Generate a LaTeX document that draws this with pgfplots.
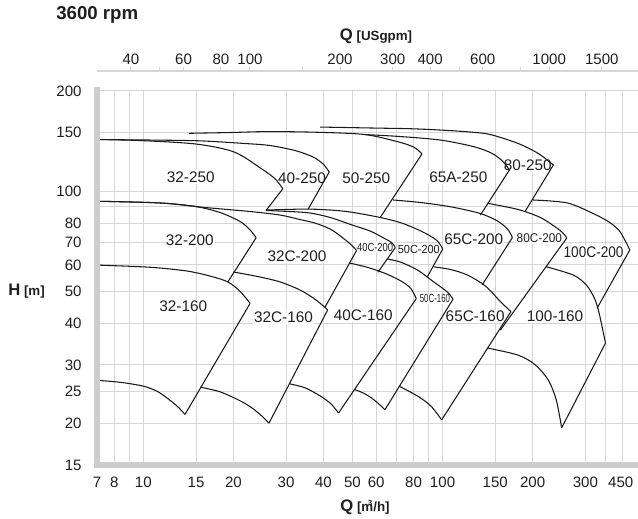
\documentclass[border=0pt]{standalone}
\usepackage{fontspec}
\setmainfont{Liberation Sans}
\usepackage{graphicx}
\usepackage{pgfplots}
\pgfplotsset{compat=1.18}

\definecolor{gridc}{HTML}{D6D6D6}
\definecolor{axc}{HTML}{CDCDCD}
\definecolor{ink}{HTML}{1A1A1A}
\definecolor{txt}{HTML}{1F1F1F}

\pgfplotsset{
  crv/.style={ink, line width=0.8pt, smooth, tension=0.5},
  bnd/.style={ink, line width=0.8pt},
}
\tikzset{
  lbl/.style={fill=white, inner sep=1pt, text=txt, font=\fontsize{11.5}{13}\selectfont},
  sml/.style={fill=white, inner sep=0.6pt, text=txt, font=\fontsize{8.8}{10}\selectfont},
}
\newcommand{\qbig}[1]{{\fontsize{12.5}{14}\selectfont #1}}
\newcommand{\qsm}[1]{{\fontsize{10}{12}\selectfont #1}}

\begin{document}
\begin{tikzpicture}

% upper scale in US gallons per minute
\begin{axis}[
  at={(0,0)}, anchor=south west, scale only axis,
  width=405.75pt, height=295.5pt,
  xmode=log, xmin=30.82, xmax=1981.3, ymin=0, ymax=1,
  axis x line*=top, hide y axis,
  x axis line style={gridc, line width=0.9pt, -},
  xtick={40,60,80,100,200,300,400,600,1000,1500},
  xticklabels={40,60,80,100,200,300,400,600,1000,1500},
  minor xtick={50,150,500,800},
  tick align=outside,
  major tick length=3pt, minor tick length=3pt,
  tick style={gridc, line width=0.75pt},
  xticklabel style={font=\fontsize{11.3}{13}\selectfont, text=txt, yshift=-2pt},
]
\addplot[draw=none] coordinates {(100,0.5)};
\end{axis}

\begin{axis}[
  at={(0,0)}, anchor=south west, scale only axis,
  width=405.75pt, height=280.5pt,
  set layers,
  xmode=log, ymode=log,
  xmin=7, xmax=450, ymin=15, ymax=200,
  axis line style={draw=none},
  xtick={7,8,10,15,20,30,40,50,60,80,100,150,200,300},
  xticklabels={7,8,10,15,20,30,40,50,60,80,100,150,200,300},
  extra x ticks={450}, extra x tick labels={450},
  extra x tick style={xticklabel style={anchor=north east}},
  minor xtick={9,70,90,350,400},
  ytick={15,20,25,30,40,50,60,70,80,100,150,200},
  yticklabels={15,20,25,30,40,50,60,70,80,100,150,200},
  minor ytick={90},
  grid=both,
  major grid style={gridc, line width=0.75pt},
  minor grid style={gridc, line width=0.75pt},
  major tick length=0pt, minor tick length=0pt,
  tick label style={font=\fontsize{11.3}{13}\selectfont, text=txt},
  xticklabel style={yshift=-5.5pt},
  yticklabel style={xshift=-8pt},
]
\begin{pgfonlayer}{pre main}
\node[lbl] at (axis cs:14.4,110.4) {32-250};
\node[lbl] at (axis cs:33.9,109.2) {40-250};
\node[lbl] at (axis cs:55.6,109.2) {50-250};
\node[lbl] at (axis cs:112.9,109.7) {65A-250};
\node[lbl] at (axis cs:192.7,119.8) {80-250};
\node[lbl] at (axis cs:14.3,71.3) {32-200};
\node[lbl] at (axis cs:32.6,63.5) {32C-200};
\node[sml] at (axis cs:59.5,67.7) {\scalebox{0.8}[1]{40C-200}};
\node[sml] at (axis cs:83.3,66.8) {\scalebox{0.93}[1]{50C-200}};
\node[lbl] at (axis cs:127.1,71.8) {65C-200};
\node[sml, font=\fontsize{9.5}{11}\selectfont] at (axis cs:210.6,72.1) {\scalebox{0.93}[1]{80C-200}};
\node[lbl] at (axis cs:319.8,65.7) {\scalebox{0.89}[1]{100C-200}};
\node[lbl] at (axis cs:13.6,45.0) {32-160};
\node[lbl] at (axis cs:29.4,41.7) {32C-160};
\node[lbl] at (axis cs:54.3,42.3) {40C-160};
\node[sml] at (axis cs:94.3,47.4) {\scalebox{0.67}[1]{50C-160}};
\node[lbl] at (axis cs:128.5,42.0) {65C-160};
\node[lbl] at (axis cs:237.7,42.0) {100-160};
\end{pgfonlayer}

% 250 family
\addplot[crv] coordinates {(7.0,142.9) (9.75,141.9) (15.0,138.5) (20.1,131.1) (24.9,116.5) (27.6,108.7) (29.25,101.6)};
\addplot[bnd] coordinates {(29.25,101.6) (25.7,87.4)};
\addplot[crv] coordinates {(7.0,142.9) (10.53,142.4) (15.47,141.6) (21.9,139.0) (26.5,137.1) (32.15,132.4) (36.95,126.6) (39.9,120.6) (41.8,114.1)};
\addplot[bnd] coordinates {(41.8,114.1) (35.56,88.3)};
\addplot[crv] coordinates {(14.2,149.2) (19.5,150.0) (26.5,151.0) (39.0,150.2) (55.1,147.9) (70.5,140.9) (80.0,135.7) (85.4,129.4)};
\addplot[bnd] coordinates {(85.4,129.4) (61.9,83.3)};
\addplot[crv] coordinates {(55.1,147.9) (72.2,145.9) (98.3,142.4) (126.8,136.1) (145.7,130.1) (158.6,123.1) (167.3,115.7)};
\addplot[bnd] coordinates {(167.3,115.7) (133.8,84.7)};
\addplot[crv] coordinates {(39.0,155.8) (57.3,154.8) (78.1,154.0) (98.3,152.6) (123.9,150.5) (144.6,147.9) (179.1,139.0) (209.0,129.7) (234.6,119.8)};
\addplot[bnd] coordinates {(234.6,119.8) (189.1,87.1)};

% 200 family
\addplot[crv] coordinates {(7.0,93.2) (11.37,92.1) (14.9,89.9) (18.05,86.2) (21.06,81.0) (22.74,76.4) (23.82,72.4)};
\addplot[bnd] coordinates {(23.82,72.4) (19.16,53.3)};
\addplot[crv] coordinates {(7.0,93.2) (11.37,92.1) (16.08,89.25) (22.74,86.8) (28.65,84.7) (33.4,82.1) (37.5,80.1) (42.1,76.9) (45.5,73.3) (49.2,69.3) (51.6,66.3)};
\addplot[bnd] coordinates {(51.6,66.3) (40.5,44.8)};
\addplot[crv] coordinates {(25.7,87.4) (30.9,86.8) (36.1,85.9) (42.1,83.3) (49.2,79.4) (57.3,75.8) (63.3,72.4) (67.9,69.8) (69.5,67.6)};
\addplot[bnd] coordinates {(69.5,67.6) (60.9,57.1)};
\addplot[crv] coordinates {(25.7,87.7) (30.9,88.1) (35.56,88.3) (42.1,87.7) (49.2,86.5) (61.9,83.3) (72.2,80.4) (81.1,77.2) (89.7,73.8) (96.1,70.8) (100.2,67.0)};
\addplot[bnd] coordinates {(100.2,67.0) (88.8,55.1)};
\addplot[crv] coordinates {(68.4,94.0) (84.3,92.4) (107.0,89.6) (133.8,85.6) (152.5,81.3) (164.8,76.9) (171.2,72.5)};
\addplot[bnd] coordinates {(171.2,72.5) (135.6,52.2)};
\addplot[crv] coordinates {(141.3,91.9) (179.1,88.0) (212.2,83.3) (238.2,78.0) (251.4,75.1) (260.2,72.3)};
\addplot[bnd] coordinates {(260.2,72.3) (156.1,38.2)};
\addplot[crv] coordinates {(200.7,94.0) (261.3,92.1) (321.5,85.3) (363.8,80.2) (392.7,75.3) (422.5,66.5)};
\addplot[bnd] coordinates {(422.5,66.5) (328.3,44.4)};

% 160 family
\addplot[crv] coordinates {(7.0,59.9) (10.53,59.0) (13.96,57.5) (16.72,55.5) (19.16,53.3) (21.06,49.9) (22.74,45.95)};
\addplot[bnd] coordinates {(22.74,45.95) (13.78,21.3)};
\addplot[crv] coordinates {(7.0,26.96) (8.36,26.6) (10.0,25.9) (11.11,25.0) (12.0,23.85) (12.96,22.56) (13.78,21.3)};
\addplot[crv] coordinates {(20.0,57.1) (24.2,55.3) (28.65,53.3) (33.4,50.4) (36.95,47.7) (39.3,45.7) (41.3,43.9)};
\addplot[bnd] coordinates {(41.3,43.9) (26.3,20.05)};
\addplot[crv] coordinates {(15.53,25.7) (18.05,24.9) (21.06,23.4) (23.1,22.25) (24.9,21.05) (26.3,20.05)};
\addplot[crv] coordinates {(48.9,60.75) (55.6,59.1) (63.8,56.7) (72.2,53.8) (78.1,51.1) (81.7,47.5)};
\addplot[bnd] coordinates {(81.7,47.5) (44.9,21.5)};
\addplot[crv] coordinates {(30.9,26.3) (34.7,25.6) (39.0,24.2) (42.4,22.9) (44.9,21.5)};
\addplot[crv] coordinates {(65.3,62.5) (72.2,61.2) (82.4,57.9) (93.2,53.4) (103.8,49.7) (108.4,47.3)};
\addplot[bnd] coordinates {(108.4,47.3) (64.2,22.0)};
\addplot[crv] coordinates {(50.8,25.3) (54.3,24.7) (57.9,23.85) (60.9,23.0) (64.2,22.0)};
\addplot[crv] coordinates {(93.2,59.2) (106.2,58.1) (121.1,55.9) (139.1,51.8) (156.1,46.5) (169.3,43.4)};
\addplot[bnd] coordinates {(169.3,43.4) (99.3,20.5)};
\addplot[crv] coordinates {(71.6,25.9) (83.0,24.1) (91.7,22.5) (99.3,20.5)};
\addplot[crv] coordinates {(222.3,59.2) (273.5,55.9) (302.3,52.2) (321.5,47.7) (331.6,43.9) (339.3,40.1) (350.4,34.9)};
\addplot[bnd] coordinates {(350.4,34.9) (250.0,19.4)};
\addplot[crv] coordinates {(141.8,33.7) (179.1,32.1) (204.2,30.0) (225.7,27.0) (240.0,23.5) (250.0,19.4)};
\end{axis}

% thick grey axis bars
\draw[axc, line width=4.5pt] (0,-2.25pt) -- (0,283.5pt);
\draw[axc, line width=4.5pt] (-2.25pt,0) -- (405.75pt,0);

\node[anchor=west, inner sep=0, text=txt, font=\bfseries\fontsize{14}{16}\selectfont] at (-30.75pt,337.5pt) {3600 rpm};
\node[inner sep=0, text=txt, font=\bfseries] at (209.25pt,321.75pt) {\qbig{Q} \qsm{[USgpm]}};
\node[anchor=west, inner sep=0, text=txt, font=\bfseries] at (-66.75pt,130.5pt) {\qbig{H} \qsm{[m]}};
\node[inner sep=0, text=txt, font=\bfseries] at (201pt,-31.5pt) {\qbig{Q} \qsm{[m\llap{\raisebox{0.85ex}{\fontsize{5.5}{6}\selectfont 3}\hspace{0.8pt}}/h]}};

\pgfresetboundingbox
\useasboundingbox (-72.75pt,-39.75pt) rectangle (405.75pt,348.75pt);
\end{tikzpicture}
\end{document}
